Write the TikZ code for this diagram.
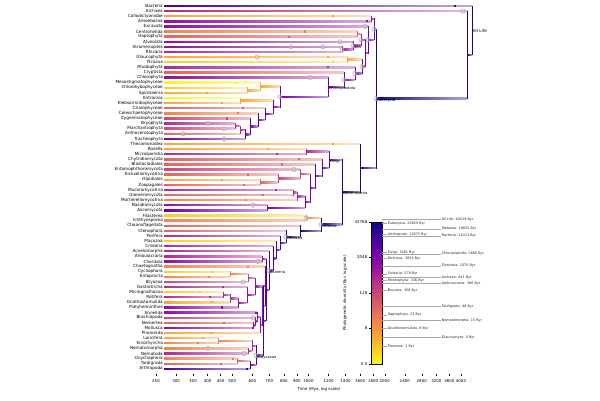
\documentclass[tikz,border=0pt]{standalone}
\usepackage{fontspec}
\setmainfont{DejaVu Sans}
\usetikzlibrary{calc}

% plasma colour map, high diversity (dark) to low (light)
\definecolor{pl0}{HTML}{0D0887}
\definecolor{pl1}{HTML}{41049D}
\definecolor{pl2}{HTML}{6A00A8}
\definecolor{pl3}{HTML}{8F0DA4}
\definecolor{pl4}{HTML}{B12A90}
\definecolor{pl5}{HTML}{CC4778}
\definecolor{pl6}{HTML}{E16462}
\definecolor{pl7}{HTML}{F2844B}
\definecolor{pl8}{HTML}{FCA636}
\definecolor{pl9}{HTML}{FCCE25}
\definecolor{pl10}{HTML}{F0F921}

\tikzset{
  taxon/.style={anchor=east, inner sep=0pt, inner xsep=1pt, font=\fontsize{4.2}{5}\selectfont},
  branchpt/.style={inner sep=0pt, minimum size=0pt, outer sep=0pt},
  cladelabel/.style={anchor=west, inner sep=0.6pt, font=\fontsize{3.7}{4}\selectfont},
  fossil/.style={rectangle, fill=#1, minimum size=2.2pt, inner sep=0pt},
  calib/.style={circle, draw=gray!75, fill=gray!35, fill opacity=0.45, draw opacity=0.8, line width=0.5pt,
    minimum size=4.4pt, inner sep=0pt},
  ticklabel/.style={font=\fontsize{4}{5}\selectfont, inner sep=0.5pt},
  pdlabel/.style={anchor=west, text=black!85, font=\fontsize{3.4}{4}\selectfont, inner sep=0.6pt},
}
\newcommand{\branch}[2]{%
  \edef\cc{\csname col@#1\endcsname}\edef\pc{\csname col@#2\endcsname}%
  \shade[left color=\cc, right color=\cc!35] ($(#1.east)+(0,-0.7)$) rectangle ($(#1.east -| #2)+(0,0.7)$);
  \draw[\pc, line width=0.9pt, line cap=rect] (#1.east -| #2) -- (#2);}
\newcommand{\clade}[5]{%
  \path let \p1=(#3), \p2=(#4) in node[branchpt] (#1) at ({#2},{0.5*(\y1+\y2)}) {};
  \expandafter\xdef\csname col@#1\endcsname{#5}%
  \branch{#3}{#1}\branch{#4}{#1}}

\begin{document}
\begin{tikzpicture}[x=1bp, y=-1bp]
\useasboundingbox (0,0) rectangle (600,400);

% taxa
\foreach \t/\c [count=\i from 0] in {Bacteria/pl1, Archaea/pl4, Collodictyonidae/pl8, Amoebozoa/pl3, Excavata/pl3,
  Centrohelida/pl7, Haptophyta/pl6, Alveolata/pl3, Stramenopiles/pl3, Rhizaria/pl4, Glaucophyta/pl8, Picozoa/pl9,
  Rhodophyta/pl4, Cryptista/pl6, Chlorophyta/pl3, Mesostigmatophyceae/pl10, Chlorokybophyceae/pl9, Spirotaenia/pl8,
  Entransia/pl10, Klebsormidiophyceae/pl8, Charophyceae/pl6, Coleochaetophyceae/pl7, Zygnematophyceae/pl5,
  Bryophyta/pl4, Marchantiophyta/pl5, Anthocerotophyta/pl6, Tracheophyta/pl2, Thecomonadea/pl8, Rozella/pl8,
  Microsporidia/pl4, Chytridiomycota/pl6, Blastocladiales/pl6, Entomophthoromycota/pl5, Kickxellomycotina/pl6,
  Olpidiales/pl8, Zoopagales/pl6, Mucoromycotina/pl4, Glomeromycota/pl6, Mortierellomycotina/pl7, Basidiomycota/pl3,
  Ascomycota/pl2, Filasterea/pl9, Ichthyosporea/pl7, Choanoflagellata/pl6, Ctenophora/pl6, Porifera/pl4, Placozoa/pl9,
  Cnidaria/pl4, Acoelomorpha/pl4, Ambulacraria/pl4, Chordata/pl3, Chaetognatha/pl7, Cycliophora/pl9, Entoprocta/pl7,
  Bryozoa/pl5, Gastrotricha/pl4, Micrognathozoa/pl9, Rotifera/pl4, Gnathostomulida/pl8, Platyhelminthes/pl3,
  Annelida/pl3, Brachiopoda/pl5, Nemertea/pl6, Mollusca/pl3, Phoronida/pl8, Loricifera/pl8, Kinorhyncha/pl7,
  Nematomorpha/pl7, Nematoda/pl4, Onychophora/pl7, Tardigrada/pl6, Arthropoda/pl1}
{
  \node[taxon] (\t) at (164, {6+5.11*\i}) {\t};
  \expandafter\xdef\csname col@\t\endcsname{\c}
}

% streptophytes
\clade{clChlSpi}{247}{Chlorokybophyceae}{Spirotaenia}{pl8}
\clade{clMeso}{260}{Mesostigmatophyceae}{clChlSpi}{pl8}
\clade{clKleb}{240}{Entransia}{Klebsormidiophyceae}{pl8}
\clade{clBryMar}{235}{Bryophyta}{Marchantiophyta}{pl4}
\clade{clBryo}{240}{clBryMar}{Anthocerotophyta}{pl4}
\clade{Embryophyta}{245}{clBryo}{Tracheophyta}{pl2}
\clade{clZyg}{250}{Zygnematophyceae}{Embryophyta}{pl2}
\clade{clCol}{258}{Coleochaetophyceae}{clZyg}{pl2}
\clade{clCha}{265}{Charophyceae}{clCol}{pl2}
\clade{clKlebC}{273}{clKleb}{clCha}{pl2}
\clade{Streptophyta}{280}{clMeso}{clKlebC}{pl2}
\clade{Chloroplastida}{328}{Chlorophyta}{Streptophyta}{pl2}
% other eukaryotes
\clade{clCA}{371}{Collodictyonidae}{Amoebozoa}{pl3}
\clade{clHap}{357}{Centrohelida}{Haptophyta}{pl6}
\clade{clSR}{342}{Stramenopiles}{Rhizaria}{pl3}
\clade{SAR}{353}{Alveolata}{clSR}{pl3}
\clade{clHapSAR}{361}{clHap}{SAR}{pl3}
\clade{clGlaPic}{347}{Glaucophyta}{Picozoa}{pl8}
\clade{clCryChl}{344}{Cryptista}{Chloroplastida}{pl2}
\clade{clRho}{355}{Rhodophyta}{clCryChl}{pl2}
\clade{clArch}{362}{clGlaPic}{clRho}{pl2}
\clade{clDia}{365}{clHapSAR}{clArch}{pl2}
\clade{clExc}{368}{Excavata}{clDia}{pl2}
\clade{clUpper}{374}{clCA}{clExc}{pl2}
% fungi
\clade{Rozellomycota}{306}{Rozella}{Microsporidia}{pl4}
\clade{clOlpZoo}{260}{Olpidiales}{Zoopagales}{pl6}
\clade{clKick}{278}{Kickxellomycotina}{clOlpZoo}{pl5}
\clade{clZoop}{300}{Entomophthoromycota}{clKick}{pl5}
\clade{clMucGlo}{293}{Mucoromycotina}{Glomeromycota}{pl4}
\clade{clMuc}{297}{clMucGlo}{Mortierellomycotina}{pl4}
\clade{Dikarya}{267}{Basidiomycota}{Ascomycota}{pl2}
\clade{clMD}{305}{clMuc}{Dikarya}{pl2}
\clade{clZM}{310}{clZoop}{clMD}{pl2}
\clade{clBla}{315}{Blastocladiales}{clZM}{pl2}
\clade{clChy}{322}{Chytridiomycota}{clBla}{pl2}
\clade{Fungi}{329}{Rozellomycota}{clChy}{pl2}
% animals
\clade{clFilIch}{306}{Filasterea}{Ichthyosporea}{pl7}
\clade{clCycEnt}{230}{Cycliophora}{Entoprocta}{pl7}
\clade{clBryz}{248}{clCycEnt}{Bryozoa}{pl5}
\clade{clMicRot}{223}{Micrognathozoa}{Rotifera}{pl4}
\clade{clGna}{230}{clMicRot}{Gnathostomulida}{pl4}
\clade{clPlat}{238}{clGna}{Platyhelminthes}{pl3}
\clade{clGas}{247}{Gastrotricha}{clPlat}{pl3}
\clade{clNemMol}{253}{Nemertea}{Mollusca}{pl3}
\clade{clBra}{255}{Brachiopoda}{clNemMol}{pl3}
\clade{clAnn}{257}{Annelida}{clBra}{pl3}
\clade{clPho}{260}{clAnn}{Phoronida}{pl3}
\clade{clBG}{255}{clBryz}{clGas}{pl3}
\clade{clSpi}{262}{clBG}{clPho}{pl3}
\clade{Spiralia}{265}{Chaetognatha}{clSpi}{pl2}
\clade{clLorKin}{218}{Loricifera}{Kinorhyncha}{pl7}
\clade{clNmt}{248}{Nematomorpha}{Nematoda}{pl4}
\clade{clScNm}{252}{clLorKin}{clNmt}{pl4}
\clade{clOnyTar}{237}{Onychophora}{Tardigrada}{pl6}
\clade{Panarthropoda}{250}{clOnyTar}{Arthropoda}{pl1}
\clade{Ecdysozoa}{256}{clScNm}{Panarthropoda}{pl1}
\clade{Protostomia}{263}{Spiralia}{Ecdysozoa}{pl1}
\clade{Deuterostomia}{262}{Ambulacraria}{Chordata}{pl3}
\clade{Nephrozoa}{266}{Deuterostomia}{Protostomia}{pl1}
\clade{Bilateria}{269}{Acoelomorpha}{Nephrozoa}{pl1}
\clade{clCni}{273}{Cnidaria}{Bilateria}{pl1}
\clade{clPlaco}{276}{Placozoa}{clCni}{pl1}
\clade{clPor}{280}{Porifera}{clPlaco}{pl1}
\clade{Metazoa}{286}{Ctenophora}{clPor}{pl0}
\clade{clCho}{300}{Choanoflagellata}{Metazoa}{pl0}
\clade{Holozoa}{321}{clFilIch}{clCho}{pl0}
\clade{Opisthokonta}{342}{Fungi}{Holozoa}{pl0}
\clade{Obazoa}{360}{Thecomonadea}{Opisthokonta}{pl0}
\clade{Eukaryota}{376}{clUpper}{Obazoa}{pl0}
\clade{clAE}{467}{Archaea}{Eukaryota}{pl0}
\clade{AllLife}{472}{Bacteria}{clAE}{pl0}

% fossil marks
\foreach \t/\x in {Bacteria/455, Collodictyonidae/333, Amoebozoa/367, Centrohelida/305, Haptophyta/289,
  Glaucophyta/328, Picozoa/333, Rhodophyta/328, Mesostigmatophyceae/236, Chlorokybophyceae/213, Spirotaenia/207,
  Entransia/167, Klebsormidiophyceae/222, Charophyceae/243, Coleochaetophyceae/238, Zygnematophyceae/227,
  Thecomonadea/333, Rozella/268, Microsporidia/277, Chytridiomycota/299, Blastocladiales/282, Kickxellomycotina/248,
  Olpidiales/222, Zoopagales/244, Mucoromycotina/276, Glomeromycota/263, Mortierellomycotina/246, Chaetognatha/248,
  Cycliophora/212, Entoprocta/209, Gastrotricha/223, Micrognathozoa/200, Rotifera/210, Gnathostomulida/212,
  Platyhelminthes/222, Nemertea/224, Phoronida/211, Loricifera/203, Kinorhyncha/198, Onychophora/233,
  Tardigrada/221, Arthropoda/247, Annelida/256, Mollusca/253}
  \node[fossil=\csname col@\t\endcsname] at (\t -| \x,0) {};
% calibration circles
\foreach \t/\x in {Archaea/463, Excavata/365, Alveolata/340, Stramenopiles/291, Stramenopiles/323, Glaucophyta/257,
  Chlorophyta/310, Bryophyta/208, Marchantiophyta/224, Anthocerotophyta/183, Tracheophyta/224,
  Entomophthoromycota/294, Basidiomycota/253, Bryozoa/243, Nematomorpha/208, Nematoda/244, Brachiopoda/253,
  Chordata/258}
  \node[calib] at (\t -| \x,0) {};
\foreach \n in {Eukaryota, clUpper, clExc, clHapSAR, SAR, clSR, clArch, clRho, clCryChl, Streptophyta,
  Holozoa, Metazoa, Bilateria, Ecdysozoa, clFilIch}
  \node[calib] at (\n) {};

% clade names
\node[cladelabel, font=\fontsize{4.2}{5}\selectfont] (lAllLife) at (AllLife) {All Life};
\foreach \n/\s in {Eukaryota/Eukaryota, SAR/SAR, Chloroplastida/Chloroplastida, Fungi/Fungi,
  Opisthokonta/Opisthokonta, Holozoa/Holozoa, Metazoa/Metazoa, Bilateria/Bilateria, Ecdysozoa/Ecdysozoa}
  \node[cladelabel, anchor=north west, yshift=1pt] (l\n) at (\n) {\s};

% time axis
\foreach \t in {250,300,350,400,450,500,600,700,800,900,1000,1200,1400,1600,1800,2000,2400,2800,3200,3600,4000}
{
  \draw[black, line width=0.4pt] ({156+110*ln(\t/250)},373.5) -- ++(0,2);
  \node[ticklabel] (tick\t) at ({156+110*ln(\t/250)},381) {\t};
}
\node[ticklabel] (timelabel) at (319,389) {Time (Mya, log scale)};

% colour bar
\foreach \i in {0,...,9}
{
  \pgfmathtruncatemacro\j{\i+1}
  \shade[top color=pl\i, bottom color=pl\j] (371,{222+14.2*\i}) rectangle (382,{222+14.2*(\i+1)});
}
\draw[black, line width=0.4pt] (371,222) rectangle (382,364);
\foreach \y/\s in {222/32768, 257.5/2048, 293/128, 328.5/8, 364/0.5}
{
  \draw[black, line width=0.4pt] (371,\y) -- ++(-2.5,0);
  \node[ticklabel, anchor=east] (cb\y) at (368,\y) {\s};
}
\node[ticklabel, rotate=90] (pdlabel) at (345,293) {Phylogenetic diversity (Byr, log scale)};
% diversity of named clades
\foreach \s/\v/\y in {Eukaryota/29029/223.5, Arthropoda/12675/234.2, Fungi/3061/252.2, Mollusca/1854/258.6,
  Cnidaria/578/273.8, Rhodophyta/336/280.6, Bryozoa/156/290.4, Haptophyta/23/315, Gnathostomulida/8/328.5,
  Placozoa/2/346.3}
  \draw[gray!70, line width=0.35pt] (382,\y) -- ++(5,0) node[pdlabel] {\s: \v\ Byr};
\foreach \s/\v/\y in {All Life/40519/219.2, Metazoa/19655/228.7, Bacteria/11023/236, Chloroplastida/2660/254,
  Chordata/1075/265.8, Archaea/441/277.2, Ambulacraria/266/283.6, Tardigrada/48/306.5, Nematomorpha/15/320.4,
  Glaucophyta/4/337.4}
  \draw[gray!70, line width=0.35pt] (382,\y) -- ++(59,0) node[pdlabel] {\s: \v\ Byr};
\end{tikzpicture}
\end{document}
